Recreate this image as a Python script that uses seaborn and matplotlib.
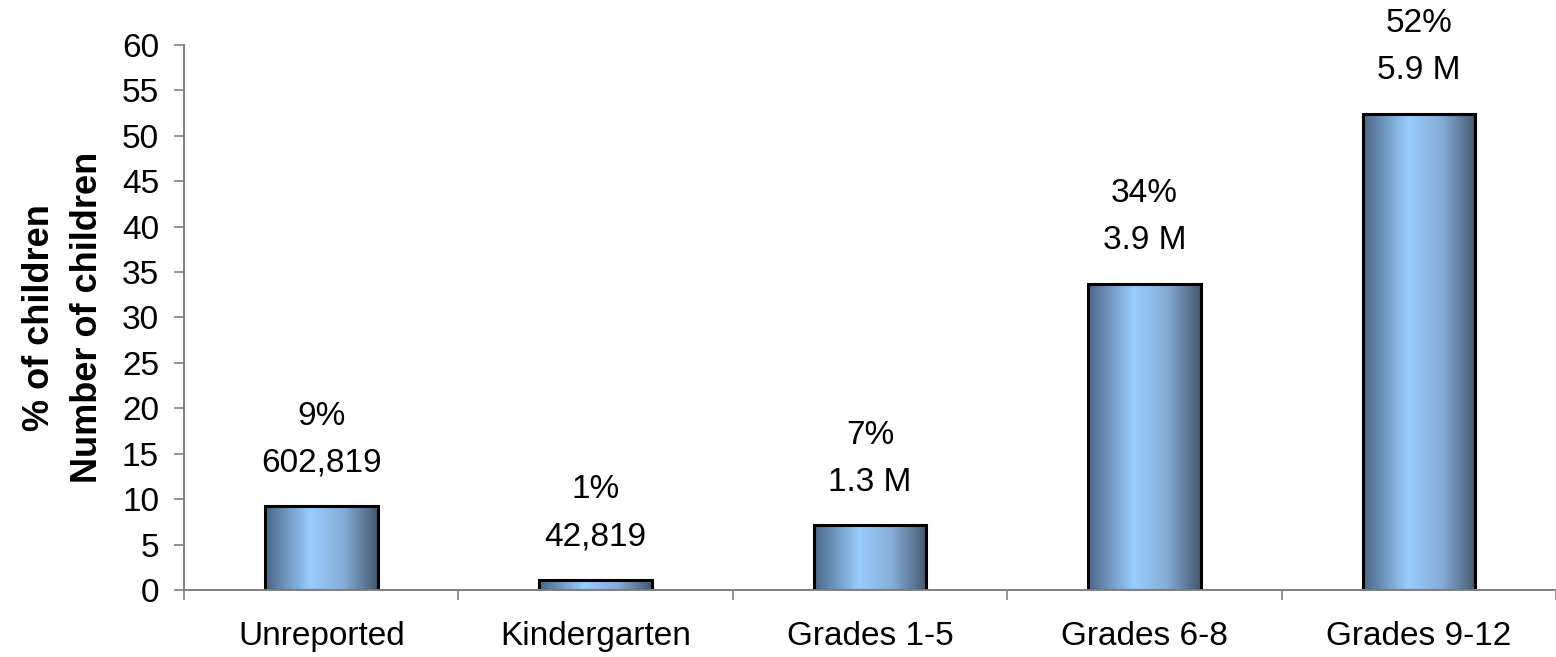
import numpy as np
import pandas as pd
import matplotlib
matplotlib.use("Agg")
import matplotlib.pyplot as plt
from matplotlib.colors import LinearSegmentedColormap
import seaborn as sns

grades = ["Unreported", "Kindergarten", "Grades 1-5", "Grades 6-8", "Grades 9-12"]
pct_children = [9.2, 1.1, 7.1, 33.7, 52.4]
pct_labels = ["9%", "1%", "7%", "34%", "52%"]
count_labels = ["602,819", "42,819", "1.3 M", "3.9 M", "5.9 M"]

df = pd.DataFrame({"grade": grades, "pct": pct_children})

sns.set_style("white")
plt.rcParams["font.family"] = ["Liberation Sans", "DejaVu Sans"]
plt.rcParams["text.color"] = "black"
plt.rcParams["axes.labelcolor"] = "black"
plt.rcParams["xtick.color"] = "black"
plt.rcParams["ytick.color"] = "black"

fig = plt.figure(figsize=(15.56, 6.57), dpi=100)
ax = fig.add_axes([0.1183, 0.102, 0.8817, 0.8295])

sns.barplot(data=df, x="grade", y="pct", ax=ax, width=0.41,
            color="#99ccff", edgecolor="black", linewidth=2.2)

# horizontal metallic gradient inside each bar
grad_cmap = LinearSegmentedColormap.from_list(
    "bar", [(0, "#4a6585"), (0.4, "#9acdff"), (0.7, "#86acd6"), (1, "#44586e")])
grad = np.linspace(0, 1, 256).reshape(1, -1)
for p in ax.patches:
    x0, y0 = p.get_x(), p.get_y()
    w, h = p.get_width(), p.get_height()
    im = ax.imshow(grad, cmap=grad_cmap, aspect="auto",
                   extent=[x0, x0 + w, y0, y0 + h], zorder=p.get_zorder() - 0.1)
    im.set_clip_path(p)
    p.set_facecolor("none")

for i, p in enumerate(ax.patches):
    cx = p.get_x() + p.get_width() / 2
    top = p.get_height()
    ax.annotate(count_labels[i], (cx, top), xytext=(0, 31), textcoords="offset points",
                ha="center", va="center", fontsize=24, annotation_clip=False)
    ax.annotate(pct_labels[i], (cx, top), xytext=(0, 65), textcoords="offset points",
                ha="center", va="center", fontsize=24, annotation_clip=False)

ax.set_xlim(-0.5, 4.5)
ax.set_ylim(0, 60)
ax.set_yticks(range(0, 61, 5))
ax.tick_params(axis="y", labelsize=24, length=7, width=1.2, color="#808080",
               direction="out", left=True, pad=11)
ax.set_xticks(np.arange(-0.5, 4.6, 1), minor=True)
ax.tick_params(axis="x", which="minor", length=7, width=1.2, color="#808080", bottom=True)
ax.tick_params(axis="x", which="major", labelsize=24, length=0, pad=22)

for side in ["top", "right"]:
    ax.spines[side].set_visible(False)
for side in ["left", "bottom"]:
    ax.spines[side].set_color("#808080")
    ax.spines[side].set_linewidth(1.4)

ax.set_xlabel("")
ax.set_ylabel("% of children\nNumber of children", fontsize=26, fontweight="bold",
              linespacing=1.5, labelpad=12)

fig.savefig("out.png", dpi=100)
